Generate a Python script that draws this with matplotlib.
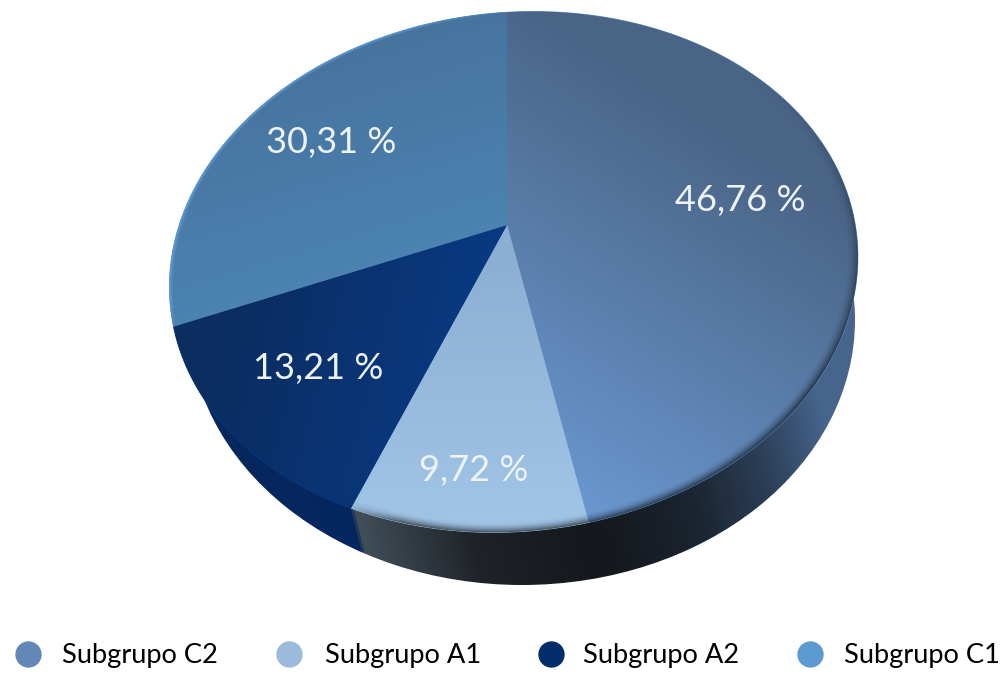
import numpy as np
import matplotlib
matplotlib.use("Agg")
import matplotlib.pyplot as plt
from matplotlib.colors import LinearSegmentedColormap, to_rgb
from matplotlib.patches import Ellipse
from matplotlib.path import Path
from matplotlib.transforms import Transform

grupos = ['Subgrupo C2', 'Subgrupo A1', 'Subgrupo A2', 'Subgrupo C1']
valores = [46.76, 9.72, 13.21, 30.31]
colores_leyenda = ['#6388b8', '#9abbdc', '#012d68', '#5b9bd2']

W, H = 1007, 675
plt.rcParams['font.family'] = ['Lato', 'DejaVu Sans']

# geometry of the tilted disc, in pixels
apex = np.array([507., 225.])
borde = np.array([(510, 12), (393, 28), (310, 72), (243, 127), (193, 200), (169, 287),
                  (173, 328), (232, 438), (350, 510), (450, 527), (588, 520), (633, 513),
                  (740, 457), (800, 403), (833, 353), (853, 320), (858, 257), (843, 180),
                  (793, 110), (727, 63), (643, 25), (577, 13)], dtype=float)
cortes = np.array([(172, 327), (350, 510), (588, 520)], dtype=float)  # C1/A2, A2/A1, A1/C2

# conic through the rim, relative to the apex (scaled so the fit behaves)
bx, by = (borde - apex).T / 300
A, B, C, D, E, F = np.linalg.svd(np.c_[bx*bx, bx*by, by*by, bx, by, np.ones_like(bx)])[2][-1]


# distance from the apex to the rim along a direction
def radio(dx, dy):
    a = A*dx*dx + B*dx*dy + C*dy*dy
    b = D*dx + E*dy
    raiz = np.sqrt(b*b - 4*a*F)
    return 300*np.maximum((-b + raiz) / (2*a), (-b - raiz) / (2*a))


# pie angles (clockwise from the top) -> angles seen on the tilted disc
acum = np.cumsum(valores) / sum(valores) * 360
th = np.array([90, 90 + 360 - acum[2], 90 + 360 - acum[1], 90 + 360 - acum[0], 450])
ph = np.degrees(np.arctan2(-(cortes[:, 1] - apex[1]), cortes[:, 0] - apex[0])) % 360
ph = np.r_[90, ph, 450]


class Tilt(Transform):
    input_dims = output_dims = 2

    def transform_non_affine(self, xy):
        r = np.hypot(xy[:, 0], xy[:, 1])
        t = np.degrees(np.arctan2(xy[:, 1], xy[:, 0]))
        t = (t - 90) % 360 + 90
        p = np.radians(np.interp(t, th, ph))
        dx, dy = np.cos(p), -np.sin(p)
        rr = r * radio(dx, dy)
        return np.c_[apex[0] + rr*dx, apex[1] + rr*dy]

    # flatten the arcs first, warped bezier handles give kinks
    def transform_path_non_affine(self, path):
        poly = Path(path.vertices*1000, path.codes).to_polygons(closed_only=False)[0] / 1000
        return Path(self.transform_non_affine(poly))


fig = plt.figure(figsize=(W/100, H/100), dpi=100)
ax = fig.add_axes([0, 0, 1, 1])
wedges, _ = ax.pie(valores, startangle=90, counterclock=False, radius=1)
ax.set_aspect('auto')
ax.set_xlim(0, W)
ax.set_ylim(H, 0)
ax.axis('off')

gx, gy = np.meshgrid(np.arange(W) + .5, np.arange(H) + .5)
ddx, ddy = gx - apex[0], gy - apex[1]
dist = np.hypot(ddx, ddy) + 1e-6
rho = dist / radio(ddx/dist, ddy/dist)
t_y = (gy - 12) / 510
t_x = (gx - 507) / 350
# darker rim on the front right of the disc, light one on the back left
rim = np.clip((rho - .965) / .035, 0, 1)**2 * np.clip(t_y*1.6 - .2, 0, 1) * np.clip((gx - 340) / 60, 0, 1)
rim_claro = np.clip((rho - .988) / .012, 0, 1) * np.clip((500 - gx) / 100, 0, 1) * np.clip((330 - gy) / 30, 0, 1)

# side of the cake
lado = Ellipse((522, 320), 666, 530, fc='none', ec='none')
ax.add_patch(lado)
cmap_lado = LinearSegmentedColormap.from_list('lado', [
    (0, '#0a2a5e'), (.283, '#04265e'), (.29, '#414e58'), (.45, '#1f2328'),
    (.62, '#14171b'), (.78, '#1b2430'), (.9, '#2c4058'), (1, '#47648c')])
im = ax.imshow(np.clip((gx - 165 + (558 - gy)*.25) / 695, 0, 1), cmap=cmap_lado, vmin=0, vmax=1,
               extent=(0, W, H, 0), aspect='auto', zorder=1)
im.set_clip_path(lado)

# colour at start, colour at end, weight of y, weight of x, offset
estilos = [('#4a6486', '#6c9bd4', 1.0, -.45, 0.05),
           ('#8caed2', '#a4c8ea', 1.6, 0, -.75),
           ('#0b2d60', '#07439c', .3, .8, .45),
           ('#47739e', '#4f8fc0', 1.2, .25, .05)]
for w, (c0, c1, ky, kx, k0) in zip(wedges, estilos):
    w.set_transform(Tilt() + ax.transData)
    w.set(facecolor=c1, edgecolor=c1, linewidth=.6, zorder=1.5)
    t = np.clip(ky*t_y + kx*t_x + k0, 0, 1)[..., None]
    rgb = np.array(to_rgb(c0))*(1 - t) + np.array(to_rgb(c1))*t
    rgb = rgb*(1 - .6*rim[..., None])
    rgb = rgb + (np.array(to_rgb('#5f9ad4')) - rgb)*rim_claro[..., None]
    im = ax.imshow(rgb, extent=(0, W, H, 0), aspect='auto', zorder=2)
    im.set_clip_path(w)

pos_etiqueta = [(740, 200), (474, 470), (318, 369), (331, 142)]
for v, (x, y) in zip(valores, pos_etiqueta):
    ax.text(x, y, f'{v:.2f} %'.replace('.', ','), color='#edf3f8', fontsize=26,
            ha='center', va='center', zorder=3)

# legend
pos_punto = [28, 289, 551, 810]
pos_texto = [62, 325, 583, 844]
for g, c, px, tx in zip(grupos, colores_leyenda, pos_punto, pos_texto):
    ax.scatter([px], [654], s=360, color=c, linewidths=0, zorder=3)
    ax.text(tx, 656, g, color='#000000', fontsize=19.6, ha='left', va='center', zorder=3)

ax.set_xlim(0, W)
ax.set_ylim(H, 0)
fig.savefig('out.png', dpi=100, facecolor='white')
